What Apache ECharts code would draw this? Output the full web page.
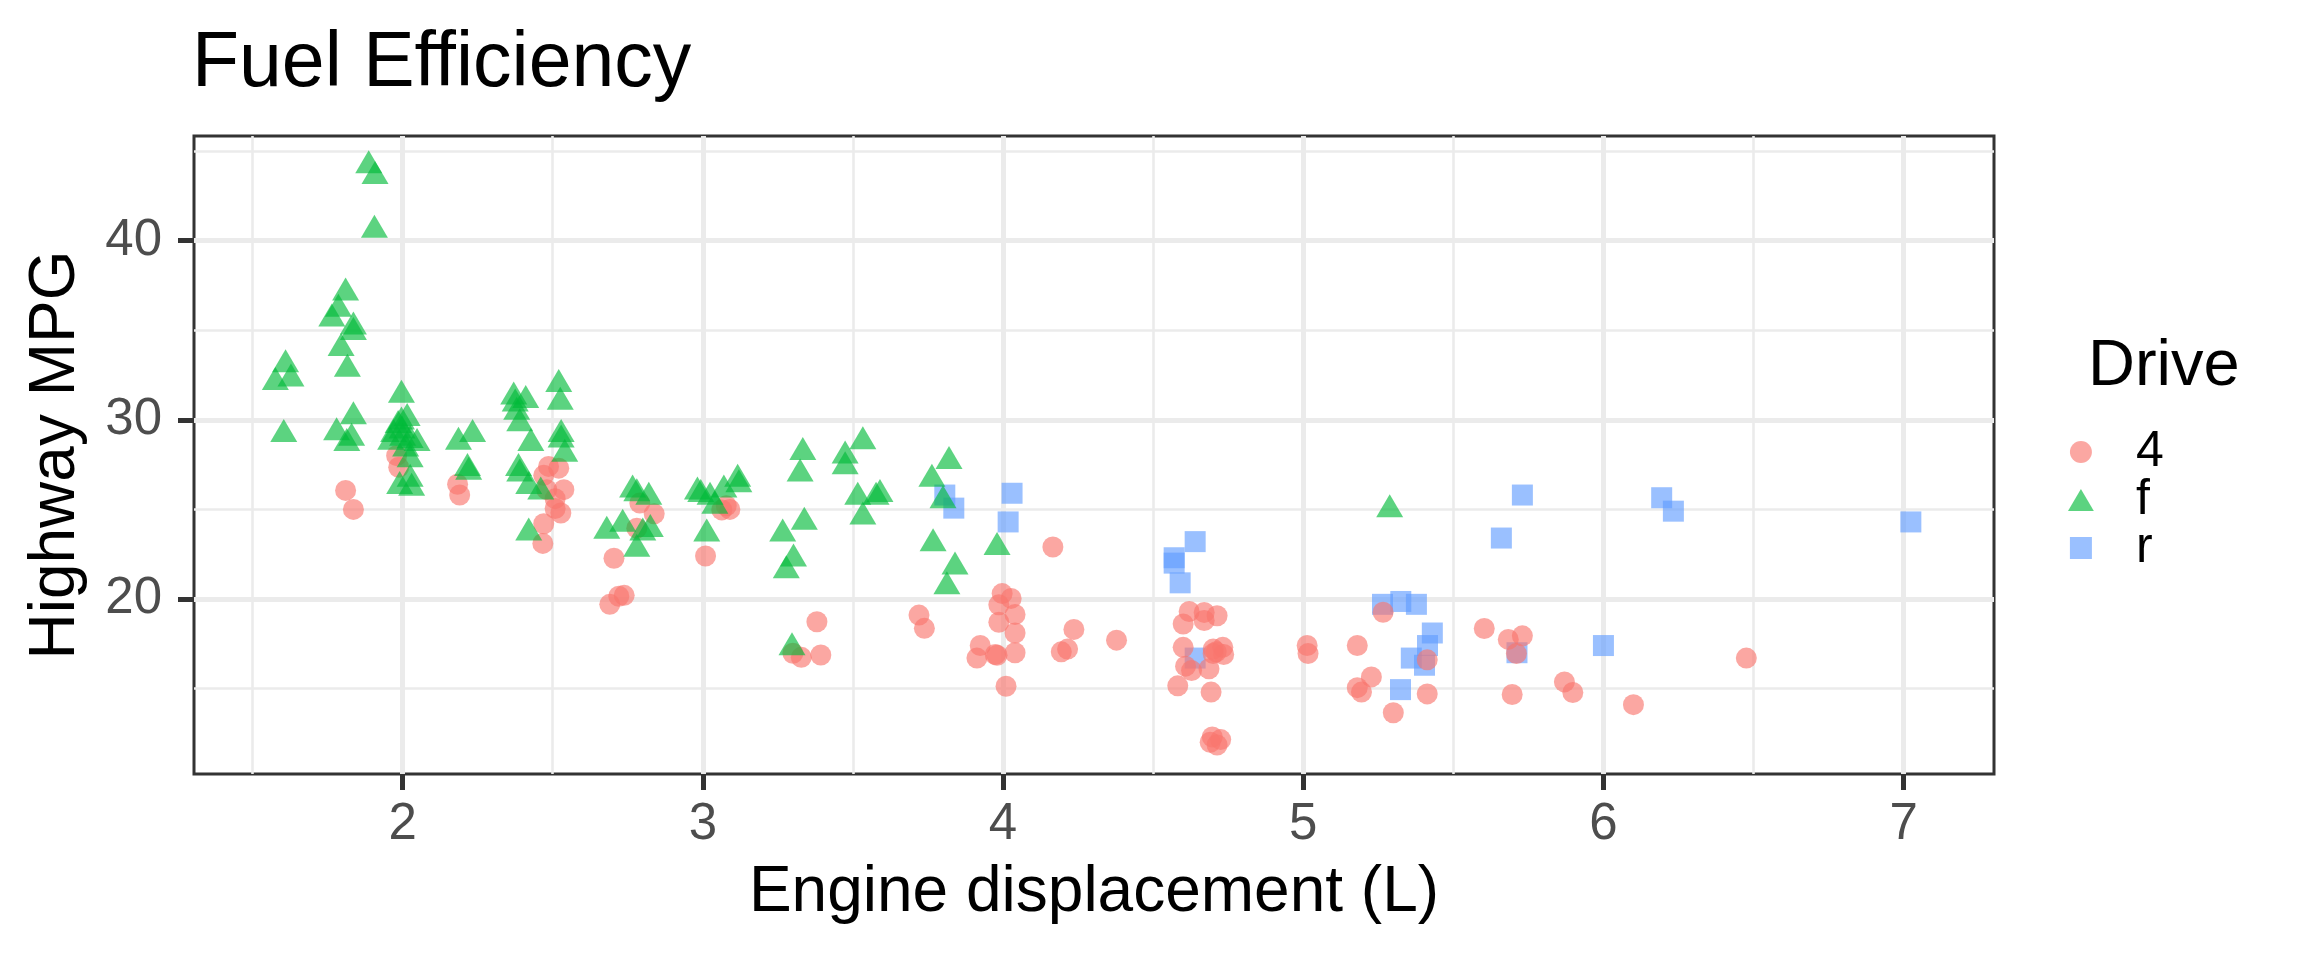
<!DOCTYPE html>
<html>
<head>
<meta charset="utf-8">
<title>Fuel Efficiency</title>
<script src="https://cdn.jsdelivr.net/npm/echarts@6/dist/echarts.min.js"></script>
<style>
  html, body { margin: 0; padding: 0; background: #fff; }
  #fuelChart { width: 2304px; height: 960px; }
</style>
</head>
<body>
<div id="fuelChart"></div>
<script>
var FONT = '"Liberation Sans", Arial, sans-serif';

// 数据：排量(L), 高速油耗(MPG)，按驱动方式分组（点位有抖动）
var drive4 = [
    [1.81, 26.06], [1.836, 25.0], [1.98, 28.0], [1.987, 27.35], [2.183, 26.4], [2.19, 25.8],
    [2.486, 27.4], [2.52, 27.3], [2.47, 26.9], [2.48, 26.1], [2.537, 26.1], [2.508, 25.6],
    [2.508, 25.05], [2.527, 24.8], [2.47, 24.2], [2.467, 23.1],
    [2.79, 25.35], [2.838, 24.75], [2.78, 23.95], [2.704, 22.27], [2.738, 20.2], [2.72, 20.15], [2.69, 19.7],
    [3.078, 25.2], [3.09, 25.0], [3.063, 24.97], [3.009, 22.4],
    [3.38, 18.73], [3.3, 16.97], [3.328, 16.74], [3.393, 16.87],
    [3.72, 19.1], [3.738, 18.36],
    [3.997, 20.3], [4.027, 20.03], [4.04, 19.13], [3.986, 18.7], [3.986, 19.67], [4.04, 18.1],
    [3.98, 16.86], [4.04, 17.0], [4.01, 15.13], [3.924, 17.4], [3.913, 16.7], [3.974, 16.9],
    [4.166, 22.9], [4.236, 18.3], [4.215, 17.2], [4.194, 17.05], [4.378, 17.7],
    [4.62, 19.3], [4.67, 19.25], [4.713, 19.06], [4.6, 18.6], [4.67, 18.8], [4.6, 17.3],
    [4.7, 17.2], [4.732, 17.3], [4.735, 16.9], [4.7, 16.95], [4.71, 17.05], [4.608, 16.25],
    [4.628, 16.0], [4.686, 16.1], [4.582, 15.15], [4.693, 14.8],
    [4.697, 12.3], [4.725, 12.15], [4.713, 11.85], [4.69, 12.0],
    [5.013, 17.4], [5.016, 16.95], [5.18, 17.4], [5.227, 15.65], [5.18, 15.05], [5.194, 14.8],
    [5.266, 19.26], [5.3, 13.65], [5.413, 14.7], [5.413, 16.6],
    [5.603, 18.35], [5.683, 17.74], [5.73, 17.94], [5.71, 16.95], [5.696, 14.67],
    [5.87, 15.37], [5.898, 14.78],
    [6.1, 14.1], [6.476, 16.7]
];

var driveF = [
    [1.887, 44.4], [1.908, 43.8], [1.906, 40.8], [1.81, 37.3], [1.786, 36.4], [1.764, 35.85],
    [1.836, 35.4], [1.836, 35.1], [1.795, 34.2], [1.816, 33.05], [1.61, 33.3], [1.628, 32.5],
    [1.576, 32.3], [1.604, 29.4], [1.836, 30.4], [1.78, 29.5], [1.83, 29.2], [1.814, 28.9],
    [1.996, 31.6], [1.996, 30.1], [1.998, 29.6], [1.97, 29.4], [2.025, 29.07], [1.96, 28.97],
    [2.048, 28.9], [2.025, 28.0], [2.025, 26.9], [1.99, 26.5], [2.03, 26.4],
    [2.0, 29.2], [2.01, 28.6], [1.985, 29.9], [2.015, 30.3],
    [2.186, 28.97], [2.233, 29.4], [2.216, 27.5], [2.22, 27.3],
    [2.37, 31.5], [2.41, 31.3], [2.375, 31.1], [2.38, 30.65], [2.39, 30.0], [2.427, 28.9],
    [2.386, 27.5], [2.39, 27.2], [2.42, 26.5], [2.46, 26.2], [2.42, 23.9],
    [2.52, 32.2], [2.525, 31.2], [2.528, 29.4], [2.528, 29.1], [2.54, 28.3],
    [2.766, 26.3], [2.78, 26.1], [2.82, 25.9], [2.68, 24.0], [2.733, 24.4], [2.8, 23.9],
    [2.825, 24.1], [2.78, 23.0],
    [2.982, 26.2], [2.993, 26.05], [3.024, 25.9], [3.07, 26.3], [3.116, 26.9], [3.12, 26.6],
    [3.04, 25.4], [3.013, 23.85],
    [3.333, 28.4], [3.324, 27.2], [3.474, 28.2], [3.474, 27.6], [3.533, 29.0], [3.516, 25.9],
    [3.59, 26.05], [3.577, 25.9], [3.533, 24.8], [3.338, 24.5], [3.266, 23.85], [3.302, 22.45],
    [3.278, 21.8], [3.297, 17.5],
    [3.82, 27.9], [3.763, 26.9], [3.8, 25.7], [3.767, 23.3], [3.84, 22.0], [3.813, 20.9],
    [3.98, 23.1],
    [5.288, 25.2]
];

var driveR = [
    [3.806, 25.8], [3.836, 25.07], [4.03, 25.9], [4.017, 24.3],
    [4.64, 23.2], [4.57, 22.3], [4.57, 22.0], [4.59, 20.9], [4.64, 16.7],
    [5.264, 19.7], [5.325, 19.86], [5.377, 19.7], [5.43, 18.1], [5.414, 17.4],
    [5.36, 16.7], [5.404, 16.3], [5.324, 14.94],
    [5.712, 17.0], [6.0, 17.4], [5.73, 25.8], [5.66, 23.4],
    [6.194, 25.65], [6.233, 24.9], [7.024, 24.3]
];

var xTicks = [2, 3, 4, 5, 6, 7];
var yTicks = [20, 30, 40];
var driveNames = ['4', 'f', 'r'];

var fuelChart = echarts.init(document.getElementById('fuelChart'), null, { renderer: 'canvas' });

var option = {
    animation: false,
    backgroundColor: '#ffffff',
    textStyle: { fontFamily: FONT },
    grid: {
        left: 194,
        right: 310,
        top: 136,
        bottom: 186,
        show: true,
        borderColor: '#333333',
        borderWidth: 3,
        backgroundColor: 'transparent'
    },
    xAxis: {
        type: 'value',
        min: 1.305,
        max: 7.301,
        splitNumber: 5,
        name: 'Engine displacement (L)',
        nameLocation: 'middle',
        nameGap: 87,
        nameTextStyle: { fontSize: 64, color: '#000000', fontFamily: FONT },
        axisLine: { show: false },
        axisTick: {
            show: true,
            length: 16,
            customValues: xTicks,
            lineStyle: { color: '#333333', width: 5 }
        },
        axisLabel: {
            customValues: xTicks,
            margin: 25,
            fontSize: 51,
            color: '#4D4D4D',
            fontFamily: FONT
        },
        splitLine: { show: true, lineStyle: { color: '#EBEBEB', width: 5 } },
        minorTick: { show: false, splitNumber: 2 },
        minorSplitLine: { show: true, lineStyle: { color: '#EBEBEB', width: 2.6 } }
    },
    yAxis: {
        type: 'value',
        min: 10.23,
        max: 45.84,
        splitNumber: 5,
        name: 'Highway MPG',
        nameLocation: 'middle',
        nameGap: 106,
        nameTextStyle: { fontSize: 64, color: '#000000', fontFamily: FONT },
        axisLine: { show: false },
        axisTick: {
            show: true,
            length: 16,
            customValues: yTicks,
            lineStyle: { color: '#333333', width: 5 }
        },
        axisLabel: {
            customValues: yTicks,
            margin: 32,
            fontSize: 51,
            color: '#4D4D4D',
            fontFamily: FONT
        },
        splitLine: { show: true, lineStyle: { color: '#EBEBEB', width: 5 } },
        minorTick: { show: false, splitNumber: 2 },
        minorSplitLine: { show: true, lineStyle: { color: '#EBEBEB', width: 2.6 } }
    },
    legend: {
        data: [
            { name: driveNames[0], icon: 'circle' },
            { name: driveNames[1], icon: 'path://M13.5,0L27,23L0,23Z' },
            { name: driveNames[2], icon: 'path://M0,0L10,0L10,10L0,10Z' }
        ],
        orient: 'vertical',
        left: 2063,
        top: 422,
        itemWidth: 100,
        itemHeight: 22,
        itemGap: -2,
        symbolKeepAspect: true,
        selectedMode: false,
        textStyle: { fontSize: 50, color: '#000000', fontFamily: FONT }
    },
    graphic: [
        {
            type: 'text',
            left: 192,
            top: 26,
            style: { text: 'Fuel Efficiency', fontSize: 77, fill: '#000000', fontFamily: FONT }
        },
        {
            type: 'text',
            left: 2088,
            top: 335,
            style: { text: 'Drive', fontSize: 65, fill: '#000000', fontFamily: FONT }
        }
    ],
    series: [
        {
            name: 'r',
            type: 'scatter',
            symbol: 'rect',
            symbolSize: 21,
            itemStyle: { color: 'rgba(97,156,255,0.8)' },
            data: driveR
        },
        {
            name: '4',
            type: 'scatter',
            symbol: 'circle',
            symbolSize: 21,
            itemStyle: { color: 'rgba(248,118,109,0.8)' },
            data: drive4
        },
        {
            name: 'f',
            type: 'scatter',
            symbol: 'triangle',
            symbolSize: [27, 23],
            itemStyle: { color: 'rgba(0,186,56,0.8)' },
            data: driveF
        }
    ]
};

fuelChart.setOption(option);
</script>
</body>
</html>
